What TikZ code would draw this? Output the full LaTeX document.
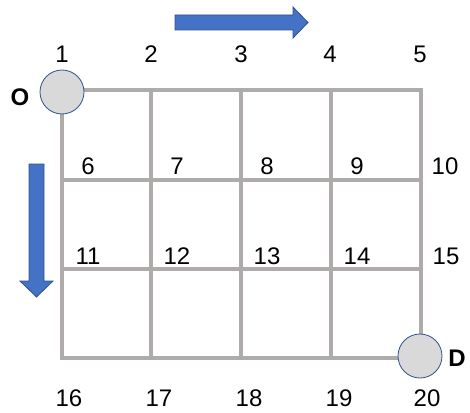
\documentclass[tikz,border=0pt]{standalone}
\usepackage{fontspec}
\setmainfont{Liberation Sans}
\begin{document}
\begin{tikzpicture}[x=1pt,y=-1pt,
  gridline/.style={draw={rgb,255:red,175;green,171;blue,171},line width=4.5pt},
  endpt/.style={circle,draw={rgb,255:red,47;green,82;blue,143},line width=0.8pt,fill={rgb,255:red,217;green,217;blue,217},minimum size=44pt,inner sep=0pt},
  num/.style={font=\fontsize{24}{24}\selectfont,inner sep=0pt},
  letter/.style={font=\fontsize{24}{24}\selectfont\bfseries,inner sep=0pt},
  bluearrow/.style={draw={rgb,255:red,47;green,82;blue,143},line width=0.8pt,fill={rgb,255:red,68;green,114;blue,196}}]
\useasboundingbox (0,0) rectangle (470,412);
% grid intersections
\foreach \c [count=\i] in {62,151,241,331,421}{
  \coordinate (r1c\i) at (\c,90);
  \coordinate (r2c\i) at (\c,180);
  \coordinate (r3c\i) at (\c,269);
  \coordinate (r4c\i) at (\c,358);
}
% grid
\draw[gridline] (r1c1) -- (r1c5) -- (r4c5) -- (r4c1) -- cycle;
\foreach \i in {2,3,4}{\draw[gridline] (r1c\i) -- (r4c\i);}
\foreach \j in {2,3}{\draw[gridline] (r\j c1) -- (r\j c5);}
% end points
\node[endpt] (O) at (62,92) {};
\node[endpt] (D) at (420,356) {};
\node[letter] (Olab) at (20,97) {O};
\node[letter] (Dlab) at (457,358) {D};
% labels
\node[num] (n1) at (62,54) {1};
\node[num] (n2) at (151,54) {2};
\node[num] (n3) at (241,54) {3};
\node[num] (n4) at (330,54) {4};
\node[num] (n5) at (420,54) {5};
\node[num] (n6) at (88,166) {6};
\node[num] (n7) at (177,166) {7};
\node[num] (n8) at (267,166) {8};
\node[num] (n9) at (357,166) {9};
\node[num] (n10) at (445,166) {10};
\node[num] (n11) at (88,256) {11};
\node[num] (n12) at (177,256) {12};
\node[num] (n13) at (267,256) {13};
\node[num] (n14) at (357,256) {14};
\node[num] (n15) at (446,256) {15};
\node[num] (n16) at (69,398) {16};
\node[num] (n17) at (159,398) {17};
\node[num] (n18) at (249,398) {18};
\node[num] (n19) at (339,398) {19};
\node[num] (n20) at (427,398) {20};
% arrows
\draw[bluearrow] (175,15) -- (293,15) -- (293,7) -- (308,22.5) -- (293,38) -- (293,30) -- (175,30) -- cycle;
\draw[bluearrow] (29,164) -- (44,164) -- (44,281) -- (53,281) -- (36.5,297) -- (20,281) -- (29,281) -- cycle;
\end{tikzpicture}
\end{document}
